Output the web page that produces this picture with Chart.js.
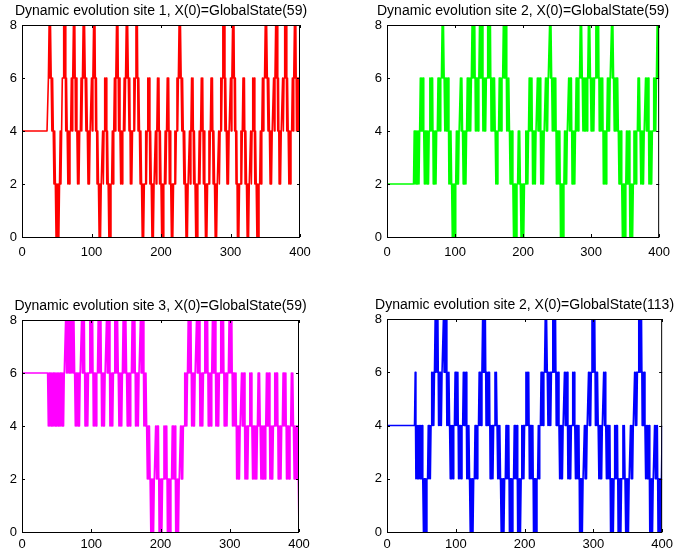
<!DOCTYPE html>
<html>
<head>
<meta charset="utf-8">
<script src="https://cdn.jsdelivr.net/npm/chart.js@4.4.0/dist/chart.umd.min.js"></script>
<style>
  html, body { margin: 0; padding: 0; background: #fff; }
  body { width: 678px; height: 555px; position: relative; overflow: hidden; }
  canvas { position: absolute; }
</style>
</head>
<body>
<canvas id="site1" width="339" height="277" style="left:0;top:0"></canvas>
<canvas id="site2" width="339" height="277" style="left:339px;top:0"></canvas>
<canvas id="site3" width="339" height="278" style="left:0;top:277px"></canvas>
<canvas id="site4" width="339" height="278" style="left:339px;top:277px"></canvas>
<script>
// x axis: time steps, y axis: state value
const lastStep = 400;
const xTicks = [0, 100, 200, 300, 400];
const yTicks = [0, 2, 4, 6, 8];

// each run: [start step, low, high] - the state flips between low and high every step
const site1Runs = [
    [0, 4, 4], [38, 6, 8],
    [43, 4, 6], [46, 2, 4], [49, 0, 2],
    [54, 2, 4], [57, 4, 6], [59, 6, 8],
    [63, 4, 6], [66, 2, 4], [70, 4, 6], [73, 6, 8],
    [77, 4, 6], [80, 2, 4], [84, 4, 6], [87, 6, 8],
    [92, 4, 6], [95, 2, 4], [99, 4, 6], [102, 6, 8],
    [106, 4, 6], [108, 2, 4], [111, 0, 2],
    [115, 2, 4], [118, 4, 6], [122, 2, 4], [125, 0, 2],
    [129, 2, 4], [132, 4, 6], [135, 6, 8],
    [139, 4, 6], [142, 2, 4], [146, 4, 6], [149, 6, 8],
    [154, 4, 6], [156, 2, 4], [160, 4, 6], [163, 6, 8],
    [167, 4, 6], [170, 2, 4], [173, 0, 2],
    [177, 2, 4], [180, 4, 6], [184, 2, 4], [187, 0, 2],
    [191, 2, 4], [194, 4, 6], [198, 2, 4], [201, 0, 2],
    [205, 2, 4], [208, 4, 6], [212, 2, 4], [215, 0, 2],
    [219, 2, 4], [222, 4, 6], [225, 6, 8],
    [230, 4, 6], [233, 2, 4], [236, 0, 2],
    [240, 2, 4], [243, 4, 6], [247, 2, 4], [250, 0, 2],
    [254, 2, 4], [257, 4, 6], [261, 2, 4], [264, 0, 2],
    [268, 2, 4], [271, 4, 6], [275, 2, 4], [278, 0, 2],
    [282, 2, 4], [285, 4, 6], [288, 6, 8],
    [292, 4, 6], [295, 2, 4], [299, 4, 6], [302, 6, 8],
    [306, 4, 6], [308, 2, 4], [310, 0, 2],
    [314, 2, 4], [317, 4, 6], [321, 2, 4], [324, 0, 2],
    [328, 2, 4], [331, 4, 6], [335, 2, 4], [338, 0, 2],
    [342, 2, 4], [345, 4, 6], [349, 6, 8],
    [354, 4, 6], [357, 2, 4], [361, 4, 6], [364, 6, 8],
    [368, 4, 6], [370, 2, 4], [374, 4, 6], [377, 6, 8],
    [381, 4, 6], [384, 2, 4], [388, 4, 6], [391, 6, 8],
    [395, 4, 6]
];

const site2Runs = [
    [0, 2, 2], [39, 2, 4],
    [48, 4, 6], [55, 2, 4], [62, 4, 6], [68, 2, 4], [74, 4, 6], [80, 6, 8],
    [85, 4, 6], [91, 2, 4], [96, 0, 2], [101, 2, 4], [107, 4, 6], [112, 2, 4],
    [117, 4, 6], [124, 6, 8], [130, 4, 6], [135, 6, 8], [141, 4, 6], [147, 6, 8],
    [153, 4, 6], [160, 2, 4], [164, 4, 6], [170, 6, 8], [176, 4, 6], [181, 2, 4],
    [186, 0, 2], [192, 2, 4], [197, 0, 2], [203, 2, 4], [208, 4, 6], [214, 2, 4],
    [220, 4, 6], [226, 2, 4], [232, 4, 6], [238, 6, 8], [243, 4, 6], [249, 2, 4],
    [255, 0, 2], [260, 2, 4], [266, 4, 6], [272, 2, 4], [277, 4, 6], [283, 6, 8],
    [288, 4, 6], [295, 6, 8], [300, 4, 6], [306, 6, 8], [312, 4, 6], [318, 2, 4],
    [323, 4, 6], [329, 6, 8], [334, 4, 6], [341, 2, 4], [346, 0, 2], [351, 2, 4],
    [357, 0, 2], [362, 2, 4], [368, 4, 6], [373, 2, 4], [379, 4, 6], [385, 2, 4],
    [391, 4, 6], [396, 6, 8]
];

const site3Runs = [
    [0, 6, 6], [38, 4, 6], [62, 6, 8],
    [77, 4, 6], [85, 6, 8], [91, 4, 6], [97, 6, 8], [103, 4, 6], [109, 6, 8],
    [115, 4, 6], [121, 6, 8], [127, 4, 6], [133, 6, 8], [140, 4, 6], [145, 6, 8],
    [152, 4, 6], [158, 6, 8], [164, 4, 6], [170, 6, 8], [176, 4, 6],
    [181, 2, 4], [186, 0, 2], [192, 2, 4], [198, 0, 2], [204, 2, 4], [210, 0, 2],
    [216, 2, 4], [222, 0, 2], [228, 2, 4],
    [234, 4, 6], [239, 6, 8], [245, 4, 6], [251, 6, 8], [257, 4, 6], [263, 6, 8],
    [269, 4, 6], [274, 6, 8], [280, 4, 6], [286, 6, 8], [292, 4, 6], [298, 6, 8],
    [304, 4, 6], [310, 2, 4], [316, 4, 6], [322, 2, 4], [328, 4, 6], [333, 2, 4],
    [340, 4, 6], [345, 2, 4], [352, 4, 6], [358, 2, 4], [364, 4, 6], [370, 2, 4],
    [376, 4, 6], [382, 2, 4], [388, 4, 6], [393, 2, 4], [400, 0, 0]
];

const site4Runs = [
    [0, 4, 4], [41, 6, 6], [42, 2, 4], [53, 0, 2], [59, 2, 4], [64, 4, 6],
    [69, 6, 8], [75, 4, 6], [81, 6, 8], [87, 4, 6], [92, 2, 4], [98, 4, 6],
    [104, 2, 4], [110, 4, 6], [116, 2, 4], [121, 0, 2], [127, 2, 4], [133, 4, 6],
    [138, 6, 8], [144, 4, 6], [150, 2, 4], [156, 4, 6], [161, 2, 4], [166, 0, 2],
    [172, 2, 4], [178, 0, 2], [184, 2, 4], [190, 0, 2], [195, 2, 4], [201, 4, 6],
    [207, 2, 4], [213, 0, 2], [219, 2, 4], [223, 4, 6], [229, 6, 8], [234, 4, 6],
    [240, 6, 8], [246, 4, 6], [251, 2, 4], [257, 4, 6], [263, 2, 4], [269, 4, 6],
    [274, 2, 4], [280, 0, 2], [286, 2, 4], [292, 4, 6], [297, 6, 8], [303, 4, 6],
    [308, 2, 4], [314, 4, 6], [319, 2, 4], [325, 0, 2], [330, 2, 4], [336, 0, 2],
    [342, 2, 4], [347, 0, 2], [353, 2, 4], [359, 4, 6], [365, 6, 8], [371, 4, 6],
    [376, 2, 4], [382, 0, 2], [388, 2, 4], [394, 0, 2], [399, 2, 4]
];

const titles = [
    'Dynamic evolution site 1, X(0)=GlobalState(59)',
    'Dynamic evolution site 2, X(0)=GlobalState(59)',
    'Dynamic evolution site 3, X(0)=GlobalState(59)',
    'Dynamic evolution site 2, X(0)=GlobalState(113)'
];

const FONT = '"Liberation Sans", Arial, Helvetica, sans-serif';

function expandRuns(runs) {
    const points = [];
    for (let i = 0; i < runs.length; i++) {
        const [start, lo, hi] = runs[i];
        const end = i + 1 < runs.length ? runs[i + 1][0] : lastStep + 1;
        for (let t = start; t < end; t++) {
            points.push({ x: t, y: (t - start) % 2 === 0 ? lo : hi });
        }
    }
    return points;
}

// matlab style box, inward ticks and title
const boxPlugin = {
    id: 'box',
    afterDraw(chart, args, opts) {
        const { ctx, chartArea: a, scales } = chart;
        const tl = 3;
        ctx.save();
        ctx.strokeStyle = '#000';
        ctx.lineWidth = 1;
        ctx.strokeRect(a.left + 0.5, a.top + 0.5, a.right - a.left - 1, a.bottom - a.top);
        ctx.beginPath();
        xTicks.forEach(v => {
            const px = Math.round(scales.x.getPixelForValue(v)) + 0.5;
            ctx.moveTo(px, a.bottom); ctx.lineTo(px, a.bottom - tl);
            ctx.moveTo(px, a.top); ctx.lineTo(px, a.top + tl);
        });
        yTicks.forEach(v => {
            const py = Math.round(scales.y.getPixelForValue(v)) + 0.5;
            ctx.moveTo(a.left, py); ctx.lineTo(a.left + tl, py);
            ctx.moveTo(a.right, py); ctx.lineTo(a.right - tl, py);
        });
        ctx.stroke();
        ctx.fillStyle = '#000';
        ctx.font = '14px ' + FONT;
        ctx.textAlign = 'center';
        ctx.textBaseline = 'alphabetic';
        ctx.fillText(opts.text, (a.left + a.right) / 2, a.top - 10);
        ctx.restore();
    }
};

function makePanel(id, runs, color, title, area, labelGap) {
    const canvas = document.getElementById(id);
    const W = canvas.width, H = canvas.height;
    const xAxisH = 19;
    return new Chart(canvas, {
        type: 'line',
        data: {
            datasets: [{
                data: expandRuns(runs),
                borderColor: color,
                borderWidth: 1.6,
                borderJoinStyle: 'round',
                borderCapStyle: 'butt',
                pointRadius: 0,
                tension: 0,
                fill: false
            }]
        },
        options: {
            responsive: false,
            animation: false,
            events: [],
            devicePixelRatio: 1,
            layout: {
                padding: { left: 0, top: area.top, right: W - area.right, bottom: H - area.bottom - xAxisH }
            },
            scales: {
                x: {
                    type: 'linear', min: 0, max: lastStep,
                    afterBuildTicks: s => { s.ticks = xTicks.map(v => ({ value: v })); },
                    afterFit: s => { s.height = xAxisH; },
                    grid: { display: false, drawTicks: false },
                    border: { display: false },
                    ticks: { color: '#000', padding: labelGap, maxRotation: 0, font: { family: FONT, size: 13 } }
                },
                y: {
                    min: 0, max: 8,
                    afterBuildTicks: s => { s.ticks = yTicks.map(v => ({ value: v })); },
                    afterFit: s => { s.width = area.left; },
                    grid: { display: false, drawTicks: false },
                    border: { display: false },
                    ticks: { color: '#000', padding: 5, font: { family: FONT, size: 13 } }
                }
            },
            plugins: {
                legend: { display: false },
                tooltip: { enabled: false },
                box: { text: title }
            }
        },
        plugins: [boxPlugin]
    });
}

makePanel('site1', site1Runs, '#ff0000', titles[0], { left: 22, top: 25, right: 300, bottom: 237 }, 8);
makePanel('site2', site2Runs, '#00ff00', titles[1], { left: 48, top: 25, right: 325, bottom: 237 }, 8);
makePanel('site3', site3Runs, '#ff00ff', titles[2], { left: 22, top: 43, right: 299, bottom: 255 }, 5);
makePanel('site4', site4Runs, '#0000ff', titles[3], { left: 48, top: 42, right: 325, bottom: 255 }, 5);
</script>
</body>
</html>
